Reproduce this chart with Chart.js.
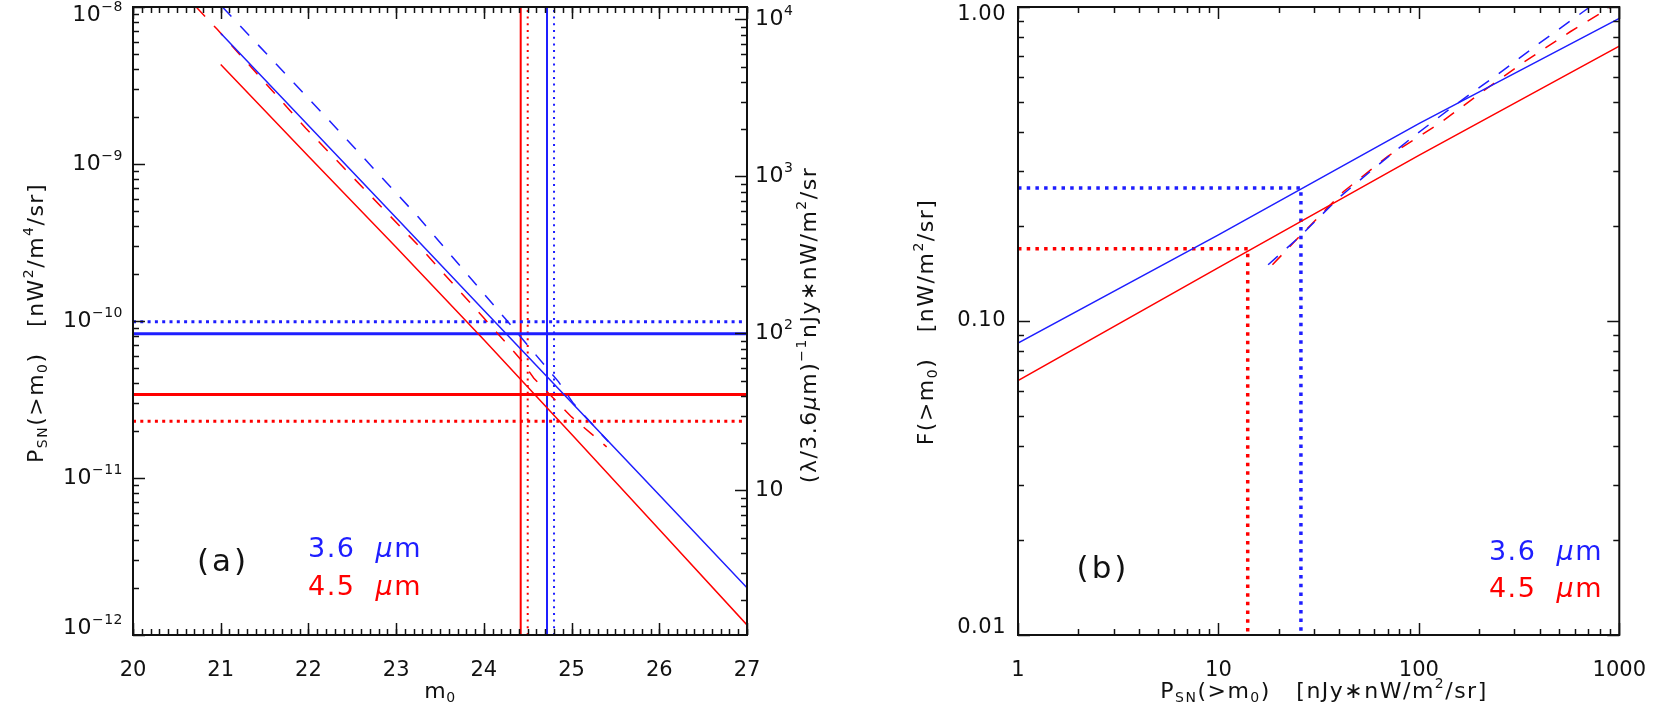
<!DOCTYPE html>
<html>
<head>
<meta charset="utf-8">
<script src="https://cdn.jsdelivr.net/npm/chart.js@4.4.1/dist/chart.umd.min.js"></script>
<style>
  html, body { margin: 0; padding: 0; background: #fff; }
  #wrap { position: relative; width: 1661px; height: 706px; }
  canvas { position: absolute; top: 0; }
  #chartA { left: 0; }
  #chartB { left: 900px; }
</style>
</head>
<body>
<div id="wrap">
  <canvas id="chartA" width="900" height="706"></canvas>
  <canvas id="chartB" width="761" height="706"></canvas>
</div>
<script>
const BLUE = 'rgb(30,30,255)';
const RED = 'rgb(255,0,0)';
const INK = '#111';
const FONT = '"DejaVu Sans"';

// ---- panel (a): P_SN(>m0) vs m0 ----
const magTicks = [20, 21, 22, 23, 24, 25, 26, 27];
const psnTicks = [1e-12, 1e-11, 1e-10, 1e-9, 1e-8];
const psnTickExp = ['\u221212', '\u221211', '\u221210', '\u22129', '\u22128'];
const scaledTicks = [10, 100, 1000, 10000];
const scaledTickExp = ['', '2', '3', '4'];
const scaledRange = [1.2, 12000];

const mSolid = [21, 22, 23, 24, 25, 26, 27];
const psnBlueSolid = [6.8e-9, 1.76e-9, 4.55e-10, 1.17e-10, 3.03e-11, 7.8e-12, 2.0e-12];
const psnRedSolid = [4.3e-9, 1.12e-9, 2.95e-10, 7.6e-11, 1.9e-11, 4.7e-12, 1.16e-12];

const mBlueDash = [21.02, 22.25, 23.25, 24.26, 24.85, 25.02, 25.42];
const psnBlueDash = [1.0e-8, 1.86e-9, 4.61e-10, 1.01e-10, 4.11e-11, 2.99e-11, 1.70e-11];
const mRedDash = [20.72, 20.96, 21.97, 23.27, 23.99, 24.41, 24.57, 25.0, 25.4];
const psnRedDash = [1.0e-8, 7.21e-9, 1.69e-9, 2.96e-10, 1.06e-10, 5.78e-11, 4.32e-11, 2.45e-11, 1.58e-11];

// limits: [solid, dotted]
const psnLimitBlue = [8.3e-11, 9.9e-11];
const psnLimitRed = [3.4e-11, 2.3e-11];
const mLimitBlue = [24.72, 24.80];
const mLimitRed = [24.42, 24.50];

// ---- panel (b): F(>m0) vs P_SN(>m0) ----
const psnAxisTicks = [1, 10, 100, 1000];
const fTicks = [0.01, 0.1, 1];
const fTickLabels = ['0.01', '0.10', '1.00'];

const psnLine = [1, 10, 100, 1000];
const fBlueSolid = [0.085, 0.188, 0.425, 0.92];
const fRedSolid = [0.0646, 0.148, 0.337, 0.751];
const psnBlueCurve = [17.7, 25.3, 40.5, 61.1, 95.8, 156, 245, 398, 713];
const fBlueCurve = [0.151, 0.185, 0.249, 0.31, 0.391, 0.494, 0.607, 0.766, 1.0];
const psnRedCurve = [18.6, 25.8, 42, 69.7, 127, 207, 337, 569, 908];
const fRedCurve = [0.151, 0.188, 0.258, 0.334, 0.426, 0.537, 0.67, 0.834, 1.0];
// [3.6 um, 4.5 um]
const markPsn = [25.8, 14.0];
const markF = [0.265, 0.17];

// ---------- helpers ----------
const pts = (xs, ys) => xs.map((x, i) => ({ x: x, y: ys[i] }));

function line(data, color, width, dash) {
  return {
    data: data, borderColor: color, borderWidth: width, borderDash: dash || [],
    borderCapStyle: 'butt', pointRadius: 0, fill: false, tension: 0
  };
}

function minorLin(a, b, step) {
  const out = [];
  for (let v = a; v <= b + 1e-9; v += step) out.push(+v.toFixed(4));
  return out;
}
function minorLog(e0, e1) {
  const out = [];
  for (let e = e0; e <= e1; e++) for (let d = 2; d <= 9; d++) out.push(d * Math.pow(10, e));
  return out;
}

function segFont(s, size) {
  const sz = (s.sub || s.sup) ? Math.round(size * 0.62) : size;
  return (s.it ? 'italic ' : '') + sz + 'px ' + FONT;
}

function drawRich(ctx, segsIn, x, y, size, color, align, rot, spacing) {
  const segs = segsIn.map(s => typeof s === 'string' ? { t: s } : Object.assign({}, s));
  ctx.save();
  ctx.translate(x, y);
  if (rot) ctx.rotate(rot);
  ctx.fillStyle = color;
  ctx.textBaseline = 'middle';
  ctx.textAlign = 'left';
  ctx.letterSpacing = (spacing || 0) + 'px';
  let w = 0;
  segs.forEach(s => { ctx.font = segFont(s, size); s.w = ctx.measureText(s.t).width; w += s.w; });
  let cx = align === 'center' ? -w / 2 : align === 'right' ? -w : 0;
  segs.forEach(s => {
    ctx.font = segFont(s, size);
    const dy = s.sub ? size * 0.3 : s.sup ? -size * 0.36 : 0;
    ctx.fillText(s.t, cx, dy);
    cx += s.w;
  });
  ctx.restore();
}

// inward ticks, boxed frame, rich labels and titles (IDL look)
function makeFrame(cfg) {
  return {
    id: 'idlFrame',
    afterDraw(chart) {
      const ctx = chart.ctx, a = chart.chartArea;
      ctx.save();
      ctx.strokeStyle = INK;
      ctx.lineWidth = 1.5;
      cfg.ticks.forEach(t => {
        const sc = chart.scales[t.scale];
        const draw = (v, len) => {
          if (v < sc.min - 1e-12 * Math.abs(sc.min) || v > sc.max * (1 + 1e-9)) return;
          const p = Math.round(sc.getPixelForValue(v)) + 0.5;
          ctx.beginPath();
          if (t.side === 'bottom') { ctx.moveTo(p, a.bottom); ctx.lineTo(p, a.bottom - len); }
          if (t.side === 'top') { ctx.moveTo(p, a.top); ctx.lineTo(p, a.top + len); }
          if (t.side === 'left') { ctx.moveTo(a.left, p); ctx.lineTo(a.left + len, p); }
          if (t.side === 'right') { ctx.moveTo(a.right, p); ctx.lineTo(a.right - len, p); }
          ctx.stroke();
        };
        t.minor.forEach(v => draw(v, 6));
        t.major.forEach(v => draw(v, 12));
      });
      ctx.lineWidth = 2;
      ctx.strokeRect(a.left, a.top, a.right - a.left, a.bottom - a.top);
      cfg.labels.forEach(l => {
        const sc = chart.scales[l.scale];
        l.values.forEach((v, i) => {
          let y = sc.getPixelForValue(v);
          y = Math.min(Math.max(y, a.top + 8), a.bottom - 7);
          if (l.side === 'left') drawRich(ctx, l.segs[i], a.left - l.gap, y, l.size, INK, 'right', 0, 0.5);
          else drawRich(ctx, l.segs[i], a.right + l.gap, y, l.size, INK, 'left', 0, 0.5);
        });
      });
      cfg.texts.forEach(t => drawRich(ctx, t.segs, t.x, t.y, t.size, t.color || INK, t.align || 'left', t.rot || 0, t.spacing || 0.5));
      ctx.restore();
    }
  };
}

function fixSize(dim, val) {
  return s => { s[dim] = val; };
}

const tickFont = { family: 'DejaVu Sans', size: 21 };
const hidden = { display: false };

// ---------- chart (a) ----------
const frameA = makeFrame({
  ticks: [
    { scale: 'x', side: 'bottom', major: magTicks, minor: minorLin(20, 27, 0.1) },
    { scale: 'x', side: 'top', major: magTicks, minor: minorLin(20, 27, 0.1) },
    { scale: 'y', side: 'left', major: psnTicks, minor: minorLog(-12, -9) },
    { scale: 'y2', side: 'right', major: scaledTicks, minor: minorLog(0, 4) }
  ],
  labels: [
    { scale: 'y', side: 'left', gap: 10, size: 22, values: psnTicks,
      segs: psnTickExp.map(e => ['10', { t: e, sup: true }]) },
    { scale: 'y2', side: 'right', gap: 8, size: 22, values: scaledTicks,
      segs: scaledTickExp.map(e => e ? ['10', { t: e, sup: true }] : ['10']) }
  ],
  texts: [
    { segs: ['P', { t: 'SN', sub: true }, '(>m', { t: '0', sub: true }, ')   [nW', { t: '2', sup: true },
             '/m', { t: '4', sup: true }, '/sr]'], x: 37, y: 323, size: 22, align: 'center', rot: -Math.PI / 2, spacing: 1.5 },
    { segs: ['(\u03bb/3.6', { t: '\u03bc', it: true }, 'm)', { t: '\u22121', sup: true }, 'nJy\u2217nW/m',
             { t: '2', sup: true }, '/sr'], x: 810, y: 325, size: 22, align: 'center', rot: -Math.PI / 2, spacing: 1.5 },
    { segs: ['m', { t: '0', sub: true }], x: 440, y: 692, size: 22, align: 'center' },
    { segs: ['(a)'], x: 223, y: 563, size: 31, align: 'center', spacing: 3 },
    { segs: ['3.6  ', { t: '\u03bc', it: true }, 'm'], x: 308, y: 550, size: 27, color: BLUE, spacing: 1.5 },
    { segs: ['4.5  ', { t: '\u03bc', it: true }, 'm'], x: 308, y: 588, size: 27, color: RED, spacing: 1.5 }
  ]
});

new Chart(document.getElementById('chartA'), {
  type: 'line',
  data: {
    datasets: [
      line(pts(mSolid, psnBlueSolid), BLUE, 1.5),
      line(pts(mSolid, psnRedSolid), RED, 1.5),
      line(pts(mBlueDash, psnBlueDash), BLUE, 1.5, [13, 13]),
      line(pts(mRedDash, psnRedDash), RED, 1.5, [13, 13]),
      line(pts([20, 27], [psnLimitBlue[0], psnLimitBlue[0]]), BLUE, 3),
      line(pts([20, 27], [psnLimitBlue[1], psnLimitBlue[1]]), BLUE, 3, [3, 4.3]),
      line(pts([20, 27], [psnLimitRed[0], psnLimitRed[0]]), RED, 3),
      line(pts([20, 27], [psnLimitRed[1], psnLimitRed[1]]), RED, 3, [3, 4.3]),
      line(pts([mLimitBlue[0], mLimitBlue[0]], [1e-12, 1e-8]), BLUE, 2),
      line(pts([mLimitBlue[1], mLimitBlue[1]], [1e-12, 1e-8]), BLUE, 2, [2, 4.7]),
      line(pts([mLimitRed[0], mLimitRed[0]], [1e-12, 1e-8]), RED, 2),
      line(pts([mLimitRed[1], mLimitRed[1]], [1e-12, 1e-8]), RED, 2, [2, 4.7])
    ]
  },
  options: {
    responsive: false,
    animation: false,
    devicePixelRatio: 1,
    events: [],
    layout: { padding: { top: 7, left: 0, right: 0, bottom: 0 } },
    plugins: { legend: hidden, tooltip: { enabled: false } },
    scales: {
      x: {
        type: 'linear', min: 20, max: 27,
        grid: hidden, border: hidden,
        afterBuildTicks: s => { s.ticks = magTicks.map(v => ({ value: v })); },
        afterFit: fixSize('height', 71),
        ticks: { font: tickFont, color: INK, padding: 15, autoSkip: false, maxRotation: 0, callback: v => String(v) }
      },
      y: {
        type: 'logarithmic', min: 1e-12, max: 1e-8,
        grid: hidden, border: hidden, ticks: hidden,
        afterFit: fixSize('width', 133)
      },
      y2: {
        type: 'logarithmic', position: 'right', min: scaledRange[0], max: scaledRange[1],
        grid: hidden, border: hidden, ticks: hidden,
        afterFit: fixSize('width', 153)
      }
    }
  },
  plugins: [frameA]
});

// ---------- chart (b) ----------
const frameB = makeFrame({
  ticks: [
    { scale: 'x', side: 'bottom', major: psnAxisTicks, minor: minorLog(0, 2) },
    { scale: 'x', side: 'top', major: psnAxisTicks, minor: minorLog(0, 2) },
    { scale: 'y', side: 'left', major: fTicks, minor: minorLog(-2, -1) },
    { scale: 'y', side: 'right', major: fTicks, minor: minorLog(-2, -1) }
  ],
  labels: [
    { scale: 'y', side: 'left', gap: 12, size: 21, values: fTicks, segs: fTickLabels.map(s => [s]) }
  ],
  texts: [
    { segs: ['F(>m', { t: '0', sub: true }, ')   [nW/m', { t: '2', sup: true }, '/sr]'],
      x: 27, y: 322, size: 22, align: 'center', rot: -Math.PI / 2, spacing: 1.5 },
    { segs: ['P', { t: 'SN', sub: true }, '(>m', { t: '0', sub: true }, ')   [nJy\u2217nW/m', { t: '2', sup: true }, '/sr]'],
      x: 424, y: 692, size: 22, align: 'center', spacing: 1.5 },
    { segs: ['(b)'], x: 203, y: 570, size: 31, align: 'center', spacing: 3 },
    { segs: ['3.6  ', { t: '\u03bc', it: true }, 'm'], x: 703, y: 553, size: 27, color: BLUE, align: 'right', spacing: 1.5 },
    { segs: ['4.5  ', { t: '\u03bc', it: true }, 'm'], x: 703, y: 590, size: 27, color: RED, align: 'right', spacing: 1.5 }
  ]
});

new Chart(document.getElementById('chartB'), {
  type: 'line',
  data: {
    datasets: [
      line(pts(psnLine, fBlueSolid), BLUE, 1.5),
      line(pts(psnLine, fRedSolid), RED, 1.5),
      line(pts(psnBlueCurve, fBlueCurve), BLUE, 1.5, [13, 12]),
      line(pts(psnRedCurve, fRedCurve), RED, 1.5, [13, 12]),
      line(pts([1, markPsn[0], markPsn[0]], [markF[0], markF[0], 0.01]), BLUE, 3.5, [3.5, 5.2]),
      line(pts([1, markPsn[1], markPsn[1]], [markF[1], markF[1], 0.01]), RED, 3.5, [3.5, 5.2])
    ]
  },
  options: {
    responsive: false,
    animation: false,
    devicePixelRatio: 1,
    events: [],
    layout: { padding: { top: 7, left: 0, right: 29, bottom: 0 } },
    plugins: { legend: hidden, tooltip: { enabled: false } },
    scales: {
      x: {
        type: 'logarithmic', min: 1, max: 1000,
        grid: hidden, border: hidden,
        afterBuildTicks: s => { s.ticks = psnAxisTicks.map(v => ({ value: v })); },
        afterFit: fixSize('height', 71),
        ticks: { font: tickFont, color: INK, padding: 15, autoSkip: false, maxRotation: 0, callback: v => String(v) }
      },
      y: {
        type: 'logarithmic', min: 0.01, max: 1,
        grid: hidden, border: hidden, ticks: hidden,
        afterFit: fixSize('width', 118)
      }
    }
  },
  plugins: [frameB]
});
</script>
</body>
</html>
